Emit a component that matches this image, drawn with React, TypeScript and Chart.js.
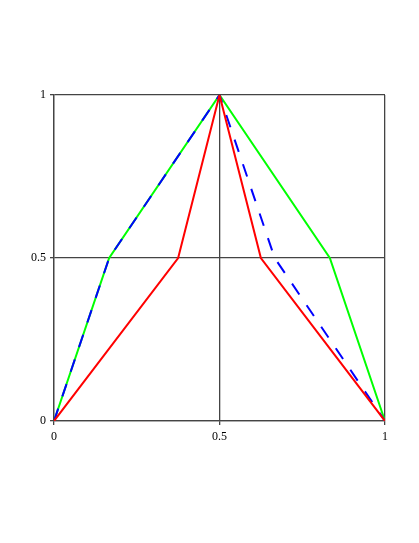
import React, { useEffect, useRef } from "react";
import { Chart, registerables } from "chart.js";

Chart.register(...registerables);

const greenX = [0, 1 / 6, 0.5, 5 / 6, 1];
const greenY = [0, 0.5, 1, 0.5, 0];
const blueX = [0, 1 / 6, 0.5, 2 / 3, 1];
const blueY = [0, 0.5, 1, 0.5, 0];
const redX = [0, 0.375, 0.5, 0.625, 1];
const redY = [0, 0.5, 1, 0.5, 0];
const tickValues = [0, 0.5, 1];
const tickLabels = ["0", "0.5", "1"];

const pts = (xs: number[], ys: number[]) => xs.map((x, i) => ({ x, y: ys[i] }));
const fmt = (v: any) => {
  const i = tickValues.indexOf(Number(v));
  return i >= 0 ? tickLabels[i] : String(v);
};

export default function App() {
  const ref = useRef<HTMLCanvasElement | null>(null);
  useEffect(() => {
    if (!ref.current) return;
    const font = { family: "'Liberation Serif', 'DejaVu Serif', serif", size: 12 };
    const gridColor = "#444";
    const chart = new Chart(ref.current, {
      type: "scatter",
      data: {
        datasets: [
          {
            label: "red",
            data: pts(redX, redY),
            showLine: true,
            borderColor: "#ff0000",
            borderWidth: 2,
            pointRadius: 0,
            order: 0,
          },
          {
            label: "blue",
            data: pts(blueX, blueY),
            showLine: true,
            borderColor: "#0000ff",
            borderWidth: 2,
            borderDash: [13, 13],
            pointRadius: 0,
            order: 1,
          },
          {
            label: "green",
            data: pts(greenX, greenY),
            showLine: true,
            borderColor: "#00ff00",
            borderWidth: 2,
            pointRadius: 0,
            order: 2,
          },
        ],
      },
      options: {
        responsive: false,
        animation: false,
        layout: { padding: { left: 1, top: 95, right: 34, bottom: 102 } },
        plugins: { legend: { display: false }, tooltip: { enabled: false } },
        scales: {
          x: {
            type: "linear",
            min: 0,
            max: 1,
            afterBuildTicks: (s: any) => {
              s.ticks = tickValues.map((v) => ({ value: v }));
            },
            afterFit: (s: any) => {
              s.height = 20;
            },
            ticks: { color: "#000", font, padding: 5, maxRotation: 0, callback: fmt },
            grid: { color: gridColor, lineWidth: 1.3, tickLength: 4 },
            border: { color: gridColor, width: 1.3 },
          },
          y: {
            type: "linear",
            min: 0,
            max: 1,
            afterBuildTicks: (s: any) => {
              s.ticks = tickValues.map((v) => ({ value: v }));
            },
            afterFit: (s: any) => {
              s.width = 53;
            },
            ticks: { color: "#000", font, padding: 4, callback: fmt },
            grid: { color: gridColor, lineWidth: 1.3, tickLength: 4 },
            border: { color: gridColor, width: 1.3 },
          },
        },
      },
    });
    return () => chart.destroy();
  }, []);
  return (
    <canvas
      ref={ref}
      width={419}
      height={543}
      style={{ position: "fixed", left: 0, top: 0, display: "block" }}
    />
  );
}
